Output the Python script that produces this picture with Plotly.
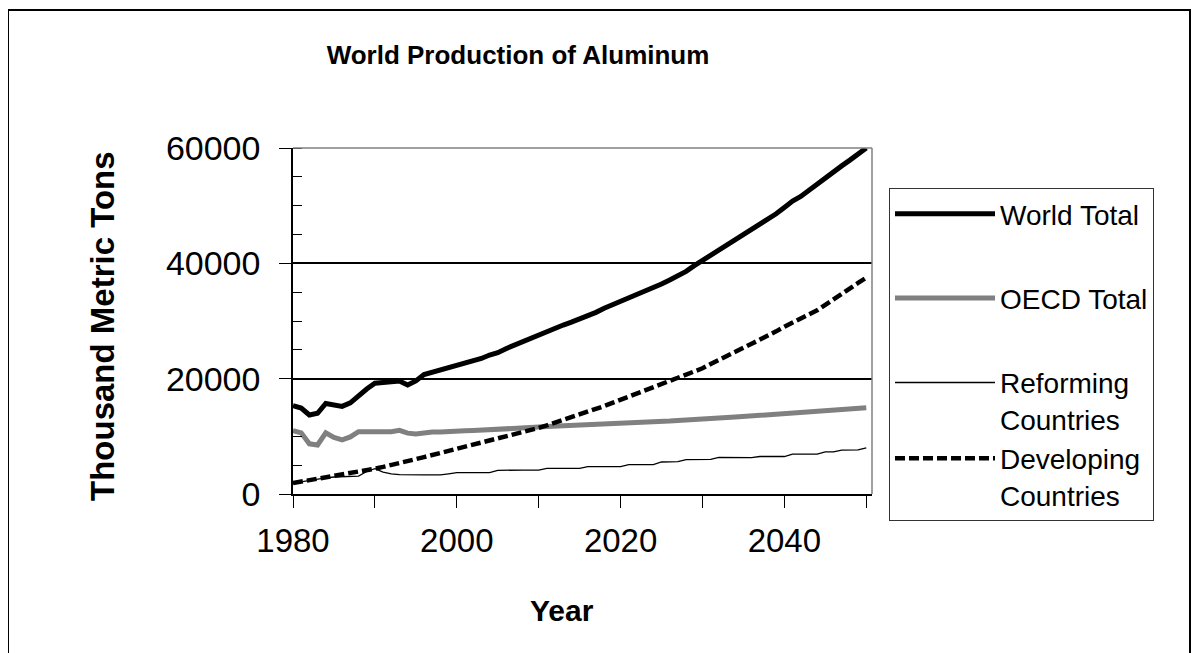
import plotly.graph_objects as go

years = list(range(1980, 2051))

world_total = [
    15300, 14900, 13700, 14000, 15700, 15400, 15200, 15800, 17100, 18200,
    19200, 19400, 19400, 19600, 18900, 19600, 20700, 21100, 21400, 21800,
    22200, 22700, 23000, 23500, 24100, 24500, 25200, 25800, 26500, 27000,
    27600, 28200, 28700, 29300, 29800, 30300, 31000, 31500, 32200, 32800,
    33400, 33900, 34400, 35000, 35700, 36400, 37100, 37800, 38600, 39600,
    40500, 41300, 42300, 43100, 44000, 44900, 45800, 46600, 47500, 48600,
    49700, 50800, 51600, 52700, 53700, 54700, 55800, 56900, 57900, 59000,
    60000,
]

oecd_total = [
    11000, 10600, 8700, 8500, 10600, 9800, 9400, 9900, 10800, 10800,
    10900, 11000, 10800, 11050, 10550, 10400, 10600, 10750, 10750, 10750,
    10900, 10950, 11000, 11050, 11100, 11350, 11400, 11450, 11500, 11550,
    11600, 11700, 11750, 11800, 11850, 11900, 12000, 12050, 12100, 12150,
    12200, 12300, 12350, 12450, 12500, 12600, 12650, 12750, 12800, 12900,
    13000, 13100, 13150, 13250, 13350, 13450, 13550, 13650, 13700, 13800,
    13900, 14000, 14100, 14200, 14300, 14400, 14500, 14600, 14700, 14800,
    14950,
]

reforming = [
    1900, 2150, 2350, 2550, 2800, 2950, 3000, 3050, 3100, 3900,
    4400, 3800, 3500, 3350, 3300, 3300, 3300, 3300, 3300, 3500,
    3700, 3700, 3700, 3700, 3700, 4100, 4150, 4150, 4150, 4150,
    4150, 4450, 4450, 4450, 4450, 4450, 4750, 4750, 4750, 4750,
    4750, 5100, 5100, 5100, 5100, 5550, 5600, 5600, 5950, 6000,
    6000, 6000, 6350, 6350, 6350, 6350, 6300, 6500, 6500, 6500,
    6500, 6900, 6900, 6900, 6900, 7300, 7300, 7600, 7600, 7650,
    8000,
]

developing = [
    1900, 2150, 2350, 2550, 2800, 3000, 3250, 3500, 3750, 4100,
    4400, 4700, 5000, 5350, 5700, 6050, 6400, 6750, 7100, 7450,
    7800, 8150, 8500, 8850, 9200, 9550, 9900, 10250, 10650, 11050,
    11450, 11900, 12350, 12800, 13250, 13700, 14200, 14700, 15250, 15800,
    16350, 16850, 17350, 17850, 18400, 18950, 19500, 20050, 20600, 21200,
    21800, 22550, 23300, 24000, 24700, 25350, 26050, 26700, 27400, 28200,
    29000, 29700, 30450, 31150, 31850, 32800, 33800, 34800, 35700, 36600,
    37500,
]

x_tick_vals = [1980, 2000, 2020, 2040]
x_minor_vals = [1990, 2010, 2030, 2050]
y_tick_vals = [0, 20000, 40000, 60000]

FONT = "Liberation Sans, Arial, sans-serif"

fig = go.Figure()
fig.add_trace(go.Scatter(x=years, y=world_total, mode="lines", name="World Total",
                         legendgroup="a",
                         line=dict(color="black", width=5)))
fig.add_trace(go.Scatter(x=years, y=oecd_total, mode="lines", name="OECD Total",
                         legendgroup="b",
                         line=dict(color="#808080", width=5)))
fig.add_trace(go.Scatter(x=years, y=reforming, mode="lines", name="Reforming<br>Countries",
                         legendgroup="c",
                         line=dict(color="black", width=1.3)))
fig.add_trace(go.Scatter(x=years, y=developing, mode="lines", name="Developing<br>Countries",
                         legendgroup="c",
                         line=dict(color="black", width=4.5, dash="10px,4px")))

# page offset (browser body margin) and plot area in reference pixels
OFF = 8
W, H = 1199 - OFF, 653 - OFF
L, R, T, B = 293, 872, 148, 494

def px(xp):
    return (xp - L) / (R - L)

def py(yp):
    return (B - yp) / (B - T)

fig.update_layout(
    width=W, height=H,
    margin=dict(l=L - OFF, r=W - (R - OFF), t=T - OFF, b=H - (B - OFF), pad=0),
    paper_bgcolor="white", plot_bgcolor="white",
    font=dict(family=FONT, color="black"),
    title=dict(text="<b>World Production of Aluminum</b>",
               font=dict(size=26, family=FONT, color="black"),
               x=(518 - OFF) / W, xref="container", xanchor="center",
               y=1 - (55 - OFF) / H, yref="container", yanchor="middle"),
    showlegend=True,
    legend=dict(x=px(889), y=py(188), xanchor="left", yanchor="top",
                bordercolor="#333333", borderwidth=1, bgcolor="white",
                font=dict(size=28, family=FONT, color="black"),
                traceorder="grouped", tracegroupgap=45, itemwidth=100,
                valign="top"),
    xaxis=dict(range=[1980, 2050.7], tickmode="array", tickvals=x_tick_vals,
               ticktext=[str(v) for v in x_tick_vals],
               ticks="outside", ticklen=12, tickcolor="black", tickwidth=1,
               minor=dict(tickmode="array", tickvals=x_minor_vals,
                          ticks="outside", ticklen=12, tickcolor="black", tickwidth=1),
               showline=True, linecolor="black", linewidth=1.5,
               showgrid=False, zeroline=False,
               tickfont=dict(size=33, family=FONT, color="black"),
               ticklabelstandoff=5),
    yaxis=dict(range=[0, 60000], tickmode="array", tickvals=y_tick_vals,
               ticktext=[str(v) for v in y_tick_vals],
               ticks="outside", ticklen=12, tickcolor="black", tickwidth=1,
               minor=dict(dtick=5000, ticks="inside", ticklen=9, tickcolor="black", tickwidth=1),
               showline=True, linecolor="black", linewidth=1.5,
               showgrid=True, gridcolor="black", gridwidth=1.5, zeroline=False,
               tickfont=dict(size=34, family=FONT, color="black"),
               ticklabelstandoff=12),
    shapes=[
        # plot-area border (grey), top and right edges
        dict(type="line", xref="paper", yref="paper", x0=0, y0=1, x1=1, y1=1,
             line=dict(color="#808080", width=1.5), layer="above"),
        dict(type="line", xref="paper", yref="paper", x0=1, y0=0, x1=1, y1=1,
             line=dict(color="#808080", width=1.5), layer="above"),
        # outer chart frame
        dict(type="rect", xref="paper", yref="paper",
             x0=px(8), y0=py(700), x1=px(1190), y1=py(10),
             line=dict(color="black", width=2), layer="below"),
    ],
    annotations=[
        dict(text="<b>Thousand Metric Tons</b>", textangle=-90, showarrow=False,
             xref="paper", yref="paper", x=px(102), y=py(326),
             xanchor="center", yanchor="middle",
             font=dict(size=33, family=FONT, color="black")),
        dict(text="<b>Year</b>", showarrow=False,
             xref="paper", yref="paper", x=px(562), y=py(610),
             xanchor="center", yanchor="middle",
             font=dict(size=30, family=FONT, color="black")),
    ],
)

fig.write_html("out.html")
